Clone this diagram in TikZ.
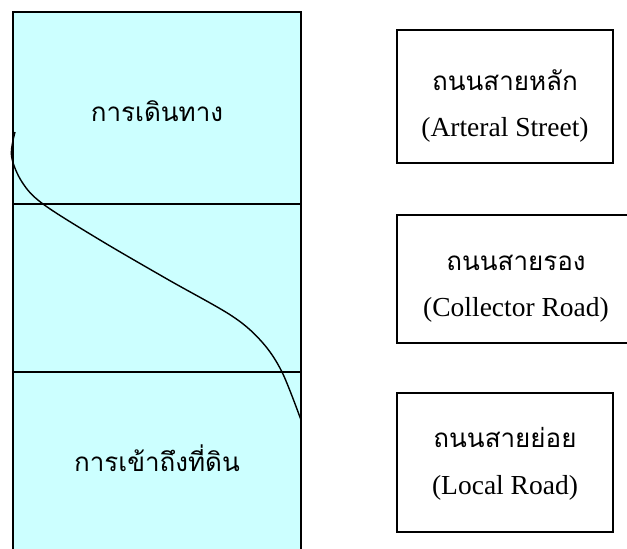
\documentclass[tikz,border=0pt]{standalone}
\usepackage{fontspec}
\setmainfont{Liberation Serif}
\newfontfamily\thaifont[Script=Thai]{Loma}
\definecolor{lcyan}{HTML}{CCFFFF}
\begin{document}
\begin{tikzpicture}[x=1pt,y=-1pt,
  boxline/.style={draw=black,line width=1.5pt},
  thlabel/.style={font=\thaifont\fontsize{26}{30}\selectfont,inner sep=0pt},
  enlabel/.style={font=\fontsize{27.5}{32}\selectfont,inner sep=0pt},
  roadbox/.style={boxline,fill=white}]
\useasboundingbox (0,0) rectangle (627,549);
% left column
\path[fill=lcyan] (13,12) rectangle (301,560);
\draw[boxline] (13,560) -- (13,12) -- (301,12) -- (301,560);
\coordinate (l1) at (13,204); \coordinate (r1) at (301,204);
\coordinate (l2) at (13,372); \coordinate (r2) at (301,372);
\draw[boxline] (l1) -- (r1);
\draw[boxline] (l2) -- (r2);
\node[thlabel] (travel) at (157,111) {การเดินทาง};
\node[thlabel] (access) at (157,458) {การเข้าถึงที่ดิน};
\draw[line width=1.4pt] plot[smooth,tension=0.55] coordinates {(15,132) (11.5,156) (22,182) (43,204) (100,240) (167,279) (232,316) (262,342) (282,372) (301,420)};
% right boxes
\draw[roadbox] (397,30) rectangle (613,163);
\node[thlabel] (a1) at (505,80) {ถนนสายหลัก};
\node[enlabel] (a2) at (505,130) {(Arteral Street)};
\draw[roadbox] (397,215) rectangle (640,343);
\node[thlabel] (c1) at (516,263) {ถนนสายรอง};
\node[enlabel] (c2) at (516,310) {(Collector Road)};
\draw[roadbox] (397,393) rectangle (613,532);
\node[thlabel] (o1) at (505,437) {ถนนสายย่อย};
\node[enlabel] (o2) at (505,488) {(Local Road)};
\end{tikzpicture}
\end{document}
